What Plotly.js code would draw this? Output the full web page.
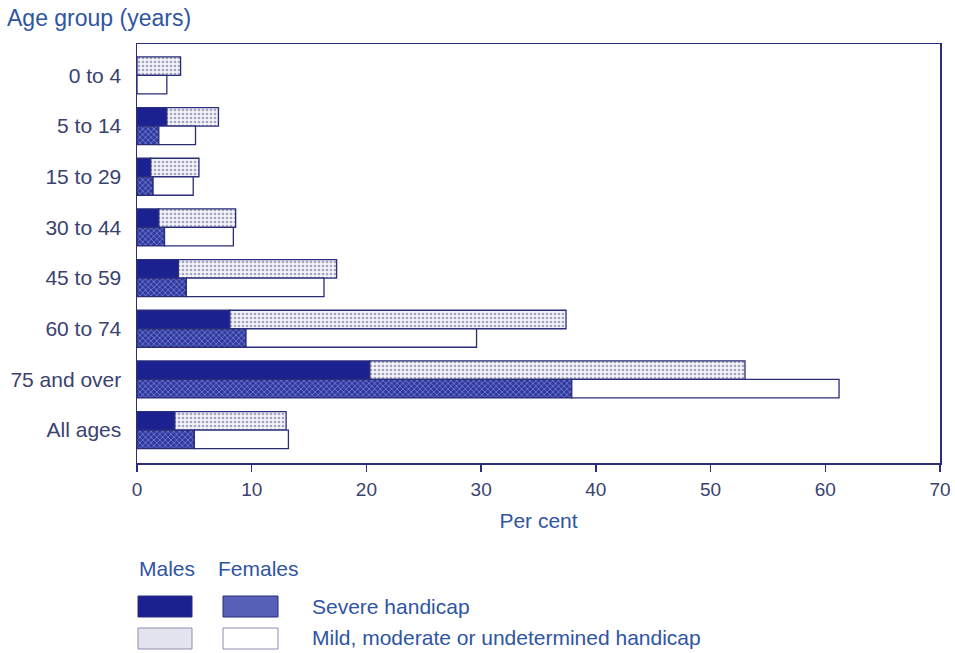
<!DOCTYPE html>
<html>
<head>
<meta charset="utf-8">
<script src="https://cdn.plot.ly/plotly-3.0.1.min.js"></script>
<style>html,body{margin:0;padding:0;background:#fff;}#chart{width:955px;height:653px;}</style>
</head>
<body>
<div id="chart"></div>
<script>
const categories = ['0 to 4', '5 to 14', '15 to 29', '30 to 44', '45 to 59', '60 to 74', '75 and over', 'All ages'];
const maleSevere = [0, 2.6, 1.2, 1.9, 3.6, 8.1, 20.3, 3.3];
const maleTotal = [3.8, 7.1, 5.4, 8.6, 17.4, 37.4, 53.0, 13.0];
const femaleSevere = [0, 1.9, 1.4, 2.4, 4.3, 9.5, 37.9, 5.0];
const femaleTotal = [2.6, 5.1, 4.9, 8.4, 16.3, 29.6, 61.2, 13.2];
const xTicks = [0, 10, 20, 30, 40, 50, 60, 70];

const maleMild = maleTotal.map((t, i) => +(t - maleSevere[i]).toFixed(2));
const femaleMild = femaleTotal.map((t, i) => +(t - femaleSevere[i]).toFixed(2));

const navy = '#2a2d78';
const edge = {color: navy, width: 1.3};

const traces = [
  {type: 'bar', orientation: 'h', y: categories, x: maleSevere, offsetgroup: 'm', name: 'Males severe',
   marker: {color: '#1b2190', line: edge}},
  {type: 'bar', orientation: 'h', y: categories, x: maleMild, base: maleSevere, offsetgroup: 'm', name: 'Males mild',
   marker: {color: '#eeeef4', line: edge, pattern: {shape: '.', fgcolor: '#a3a5c2', bgcolor: '#f4f4f8', size: 4, solidity: 0.35}}},
  {type: 'bar', orientation: 'h', y: categories, x: femaleSevere, offsetgroup: 'f', name: 'Females severe',
   marker: {color: '#3d47a8', line: edge, pattern: {shape: 'x', fgcolor: '#8c92d2', bgcolor: '#2e39a2', size: 4, solidity: 0.3}}},
  {type: 'bar', orientation: 'h', y: categories, x: femaleMild, base: femaleSevere, offsetgroup: 'f', name: 'Females mild',
   marker: {color: '#ffffff', line: edge}}
];

const L = 137, R = 940, T = 44, B = 463;
const px = v => (v - L) / (R - L);
const py = v => (B - v) / (B - T);

const textBlue = '#2f55a3';
const tickGrey = '#3a4270';
const font = 'Liberation Sans, Arial, sans-serif';

const shapes = [
  {type: 'rect', xref: 'paper', yref: 'paper', x0: px(138), x1: px(192), y0: py(617), y1: py(596), fillcolor: '#1b2190', line: {color: navy, width: 1}},
  {type: 'rect', xref: 'paper', yref: 'paper', x0: px(223), x1: px(278), y0: py(617), y1: py(596), fillcolor: '#5560b6', line: {color: navy, width: 1}},
  {type: 'rect', xref: 'paper', yref: 'paper', x0: px(138), x1: px(192), y0: py(649), y1: py(628), fillcolor: '#e4e4ee', line: {color: '#8c8fb4', width: 1}},
  {type: 'rect', xref: 'paper', yref: 'paper', x0: px(223), x1: px(278), y0: py(649), y1: py(628), fillcolor: '#ffffff', line: {color: '#8c8fb4', width: 1}}
];

const ann = (text, x, y) => ({text: text, xref: 'paper', yref: 'paper', x: px(x), y: py(y), xanchor: 'left', yanchor: 'middle', showarrow: false, font: {family: font, size: 21, color: textBlue}});
const annotations = [
  ann('Males', 137, 568),
  ann('Females', 216, 568),
  ann('Severe handicap', 310, 606),
  ann('Mild, moderate or undetermined handicap', 310, 637)
];

const layout = {
  width: 955, height: 653,
  margin: {l: L, r: 955 - R, t: T, b: 653 - B},
  paper_bgcolor: '#ffffff', plot_bgcolor: '#ffffff',
  showlegend: false,
  barmode: 'group', bargap: 0.27, bargroupgap: 0,
  title: {text: 'Age group (years)', x: 7 / 955, xanchor: 'left', xref: 'container', y: 1 - 18 / 653, yref: 'container', yanchor: 'middle', font: {family: font, size: 23, color: textBlue}},
  xaxis: {range: [0, 70], tickvals: xTicks, ticktext: xTicks.map(String), ticks: 'outside', ticklen: 7, tickwidth: 1.3, tickcolor: navy,
          showline: true, linecolor: navy, linewidth: 1.5, mirror: true, showgrid: false, zeroline: false,
          tickfont: {family: font, size: 19, color: tickGrey}, ticklabelstandoff: 2,
          title: {text: 'Per cent', font: {family: font, size: 21, color: textBlue}, standoff: 14}},
  yaxis: {type: 'category', range: [7.65, -0.62], showline: true, linecolor: navy, linewidth: 1.5, mirror: true,
          showgrid: false, zeroline: false, ticks: '', tickfont: {family: font, size: 21, color: tickGrey}, ticklabelstandoff: 10},
  shapes: shapes,
  annotations: annotations
};

Plotly.newPlot('chart', traces, layout, {displayModeBar: false, staticPlot: true});
</script>
</body>
</html>
